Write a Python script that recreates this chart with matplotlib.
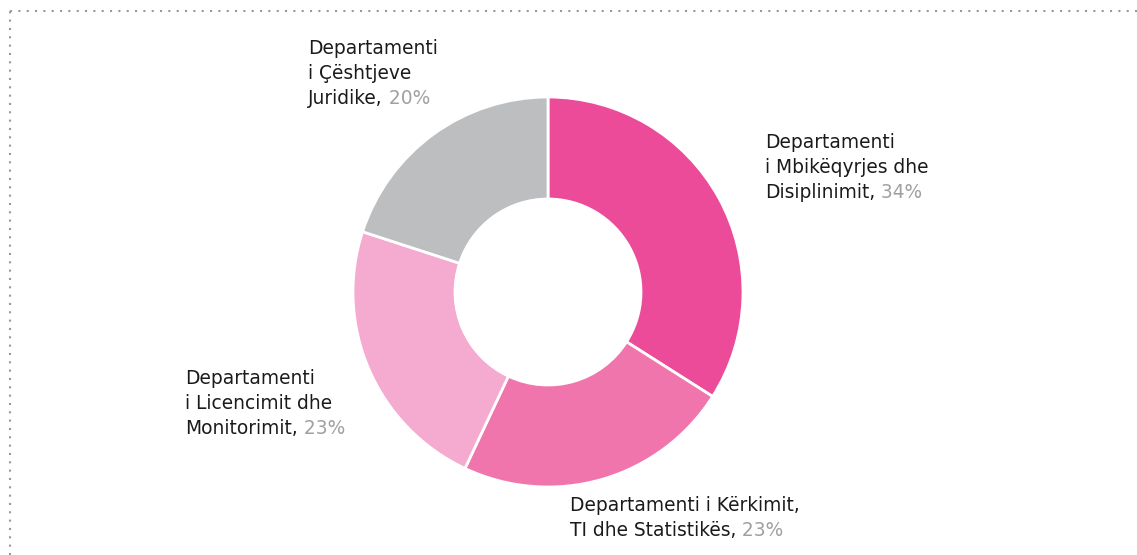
import matplotlib
matplotlib.use('Agg')
import matplotlib.pyplot as plt
from matplotlib.lines import Line2D

# data
names = [['Departamenti', 'i Mbikëqyrjes dhe', 'Disiplinimit,'],
         ['Departamenti i Kërkimit,', 'TI dhe Statistikës,'],
         ['Departamenti', 'i Licencimit dhe', 'Monitorimit,'],
         ['Departamenti', 'i Çështjeve', 'Juridike,']]
shares = [34, 23, 23, 20]
colors = ['#EC4B9A', '#F075AD', '#F5AACF', '#BDBEC0']
# label anchor (left, first baseline) in pixels from top-left
label_pos = [(765, 148), (570, 511), (185, 384), (308, 54)]

W, H = 1137, 555
fig = plt.figure(figsize=(W / 100, H / 100), dpi=100)
ax = fig.add_axes([0, 0, 1, 1])

ax.pie(shares, colors=colors, startangle=90, counterclock=False,
       center=(548, H - 292), radius=195,
       wedgeprops=dict(width=102, edgecolor='white', linewidth=2))
ax.set_xlim(0, W)
ax.set_ylim(0, H)
ax.set_aspect('equal')
ax.axis('off')

font = 'DejaVu Sans'
fs = 13.4
step = 24.8
for lines, pct, (x, y) in zip(names, shares, label_pos):
    for i, line in enumerate(lines):
        yb = H - (y + i * step)
        t = ax.text(x, yb, line, ha='left', va='baseline', fontsize=fs,
                    family=font, color='#1a1a1a')
    # gray share after the last line
    ax.annotate(' %d%%' % pct, xy=(1, yb), xycoords=(t, 'data'),
                ha='left', va='baseline', fontsize=fs, family=font,
                color='#A0A0A0')

# dotted frame on top and left
fig.add_artist(Line2D([10 / W, 1], [1 - 11 / H, 1 - 11 / H], transform=fig.transFigure,
                      color='#999999', linewidth=1.5, linestyle=(0, (1, 3))))
fig.add_artist(Line2D([10 / W, 10 / W], [0, 1 - 11 / H], transform=fig.transFigure,
                      color='#999999', linewidth=1.5, linestyle=(0, (1, 3))))

fig.savefig('out.png', dpi=100)
